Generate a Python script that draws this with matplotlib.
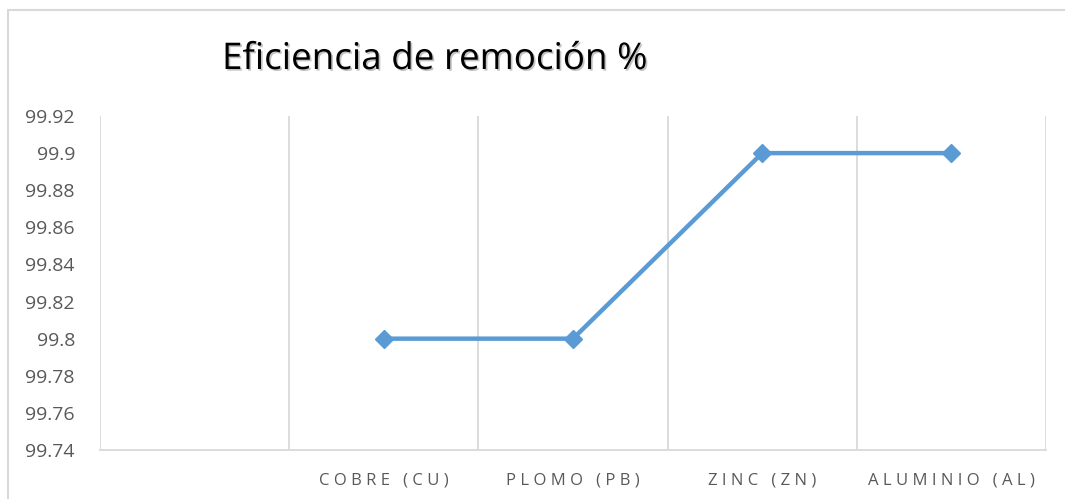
import matplotlib.pyplot as plt
import matplotlib.patheffects as pe
from matplotlib.patches import Rectangle

# data
metals = ['COBRE (CU)', 'PLOMO (PB)', 'ZINC (ZN)', 'ALUMINIO (AL)']
eficiencia = [99.80, 99.80, 99.90, 99.90]
y_ticks = [99.74, 99.76, 99.78, 99.80, 99.82, 99.84, 99.86, 99.88, 99.90, 99.92]
y_labels = ['99.74', '99.76', '99.78', '99.8', '99.82', '99.84', '99.86', '99.88', '99.9', '99.92']

plt.rcParams['font.family'] = ['Open Sans', 'DejaVu Sans']

W, H = 1065, 499
fig = plt.figure(figsize=(W / 100, H / 100), dpi=100)
ax = fig.add_axes([100 / W, 1 - 450 / H, (1046 - 100) / W, (450 - 116) / H])

# outer chart border
fig.patches.append(Rectangle((8 / W, -0.05), 1.1, 1.05 - 10 / H, transform=fig.transFigure,
                             fill=False, edgecolor='#d9d9d9', linewidth=1.5))

x = list(range(1, len(metals) + 1))
ax.plot(x, eficiencia, color='#5b9bd5', linewidth=3.2, marker='D', markersize=9.5,
        markeredgecolor='#5b9bd5', zorder=3)

ax.set_xlim(-0.5, len(metals) + 0.5)
ax.set_ylim(99.74, 99.92)
ax.set_yticks(y_ticks)
ax.set_yticklabels(y_labels)

# vertical gridlines at category boundaries
for b in range(len(metals) + 2):
    ax.axvline(b - 0.5, color='#d9d9d9', linewidth=1.3, zorder=1)

ax.set_xticks(x)
ax.set_xticklabels([' '.join(m) for m in metals])

for s in ['top', 'right', 'left']:
    ax.spines[s].set_visible(False)
ax.spines['bottom'].set_color('#d9d9d9')
ax.spines['bottom'].set_linewidth(1.3)

ax.tick_params(axis='y', length=0, pad=18, labelsize=14, labelcolor='#595959')
ax.tick_params(axis='x', length=0, pad=16, labelsize=12, labelcolor='#595959')

fig.text(222 / W, 1 - 69 / H, 'Eficiencia de remoción %', fontsize=26.5, color='black',
         ha='left', va='baseline',
         path_effects=[pe.SimplePatchShadow(offset=(1.2, -1.2), shadow_rgbFace='#888888', alpha=0.5),
                       pe.Normal()])

fig.savefig('out.png', dpi=100)
